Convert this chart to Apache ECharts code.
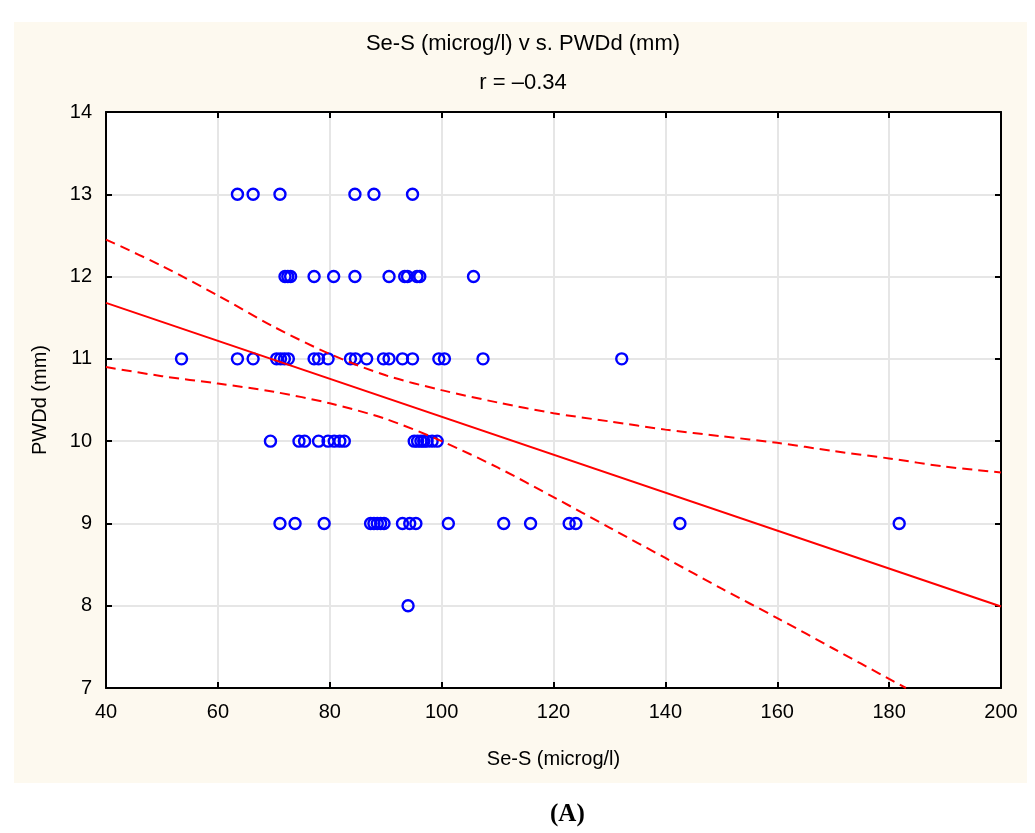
<!DOCTYPE html>
<html>
<head>
<meta charset="utf-8">
<script src="https://cdn.jsdelivr.net/npm/echarts@6/dist/echarts.min.js"></script>
<style>html,body{margin:0;padding:0;background:#fff;}#c{width:1035px;height:833px;}</style>
</head>
<body>
<div id="c"></div>
<script>
// ---- data ----
const xTicks = [40, 60, 80, 100, 120, 140, 160, 180, 200];
const yTicks = [7, 8, 9, 10, 11, 12, 13, 14];
// Se-S (microg/l) values for each PWDd (mm) level
const seS_13 = [63.5, 66.3, 71.1, 84.5, 87.9, 94.8];
const seS_12 = [72.0, 72.5, 73.0, 77.2, 80.7, 84.5, 90.6, 93.4, 93.9, 95.6, 96.1, 105.7];
const seS_11 = [53.5, 63.5, 66.3, 70.5, 71.2, 71.9, 72.6, 77.2, 78.0, 79.7, 83.7, 84.6, 86.6, 89.6, 90.6, 93.0, 94.8, 99.5, 100.5, 107.4, 132.2];
const seS_10 = [69.4, 74.5, 75.5, 78.0, 79.7, 80.8, 81.8, 82.6, 95.1, 95.7, 96.3, 96.8, 97.4, 98.3, 99.2];
const seS_9  = [71.1, 73.8, 79.0, 87.3, 87.9, 88.5, 89.1, 89.7, 93.0, 94.3, 95.4, 101.2, 111.1, 115.9, 122.8, 124.0, 142.6, 181.8];
const seS_8  = [94.0];
// regression line and 95% confidence band
const fitX = [40, 200];
const fitY = [11.68, 7.99];
const bandX     = [40, 50, 60, 70, 80, 90, 100, 110, 120, 130, 140, 150, 160, 170, 180, 190, 200];
const upperBand = [12.45, 12.13, 11.77, 11.39, 11.06, 10.80, 10.62, 10.47, 10.34, 10.24, 10.14, 10.06, 9.98, 9.88, 9.79, 9.69, 9.62];
const lowerX    = [40, 50, 60, 70, 80, 90, 100, 110, 120, 130, 140, 150, 160, 170, 180, 183];
const lowerBand = [10.90, 10.79, 10.70, 10.60, 10.46, 10.27, 10.00, 9.68, 9.32, 8.95, 8.58, 8.21, 7.85, 7.48, 7.11, 7.00];

const rows = [[13, seS_13], [12, seS_12], [11, seS_11], [10, seS_10], [9, seS_9], [8, seS_8]];
const points = [];
rows.forEach(([y, xs]) => xs.forEach(x => points.push([x, y])));
const zip = (a, b) => a.map((v, i) => [v, b[i]]);

const FONT = 'Liberation Sans, Arial, sans-serif';
const axisCommon = {
  type: 'value',
  axisLine: { show: true, onZero: false, lineStyle: { color: '#000', width: 2 } },
  axisTick: { show: true, inside: true, length: 6, lineStyle: { color: '#000', width: 2 } },
  axisLabel: { color: '#000', fontSize: 20, fontFamily: FONT, margin: 14 },
  nameTextStyle: { color: '#000', fontSize: 20, fontFamily: FONT }
};

const chart = echarts.init(document.getElementById('c'));
chart.setOption({
  backgroundColor: '#fff',
  animation: false,
  graphic: [
    { type: 'rect', z: -100, silent: true, shape: { x: 14, y: 22, width: 1013, height: 761 }, style: { fill: '#FDF9EF' } },
    { type: 'text', z: 10, left: 550, top: 802, style: { text: '(A)', font: 'bold 25px "Liberation Serif", "Times New Roman", serif', fill: '#000', textAlign: 'center' } }
  ],
  title: [
    { text: 'Se-S (microg/l) v s. PWDd (mm)', left: 523, top: 33, textAlign: 'center', padding: 0,
      textStyle: { fontSize: 22, fontWeight: 'normal', color: '#000', fontFamily: FONT } },
    { text: 'r = \u20130.34', left: 523, top: 72, textAlign: 'center', padding: 0,
      textStyle: { fontSize: 22, fontWeight: 'normal', color: '#000', fontFamily: FONT } }
  ],
  grid: { left: 106, top: 112, right: 34, bottom: 145, show: true, backgroundColor: '#fff', borderWidth: 0, z: 0 },
  xAxis: [
    Object.assign({}, axisCommon, {
      position: 'bottom', min: xTicks[0], max: xTicks[xTicks.length - 1], interval: 20,
      name: 'Se-S (microg/l)', nameLocation: 'middle', nameGap: 61,
      splitLine: { show: true, lineStyle: { color: '#E6E6E6', width: 2 } }
    }),
    Object.assign({}, axisCommon, {
      position: 'top', min: xTicks[0], max: xTicks[xTicks.length - 1], interval: 20,
      axisLabel: { show: false }, splitLine: { show: false }
    })
  ],
  yAxis: [
    Object.assign({}, axisCommon, {
      position: 'left', min: yTicks[0], max: yTicks[yTicks.length - 1], interval: 1,
      name: 'PWDd (mm)', nameLocation: 'middle', nameGap: 56,
      splitLine: { show: true, lineStyle: { color: '#E6E6E6', width: 2 } }
    }),
    Object.assign({}, axisCommon, {
      position: 'right', min: yTicks[0], max: yTicks[yTicks.length - 1], interval: 1,
      axisLabel: { show: false }, splitLine: { show: false }
    })
  ],
  series: [
    { type: 'scatter', data: points, symbol: 'circle', symbolSize: 11, z: 2,
      itemStyle: { color: 'rgba(0,0,0,0)', borderColor: '#0000FF', borderWidth: 2.4, opacity: 1 } },
    { type: 'line', data: zip(fitX, fitY), showSymbol: false, z: 3, clip: true,
      lineStyle: { color: '#FF0000', width: 2 } },
    { type: 'line', data: zip(bandX, upperBand), showSymbol: false, z: 3, clip: true, smooth: 0.3,
      lineStyle: { color: '#FF0000', width: 2, type: [10, 6] } },
    { type: 'line', data: zip(lowerX, lowerBand), showSymbol: false, z: 3, clip: true, smooth: 0.3,
      lineStyle: { color: '#FF0000', width: 2, type: [10, 6] } }
  ]
});
</script>
</body>
</html>
